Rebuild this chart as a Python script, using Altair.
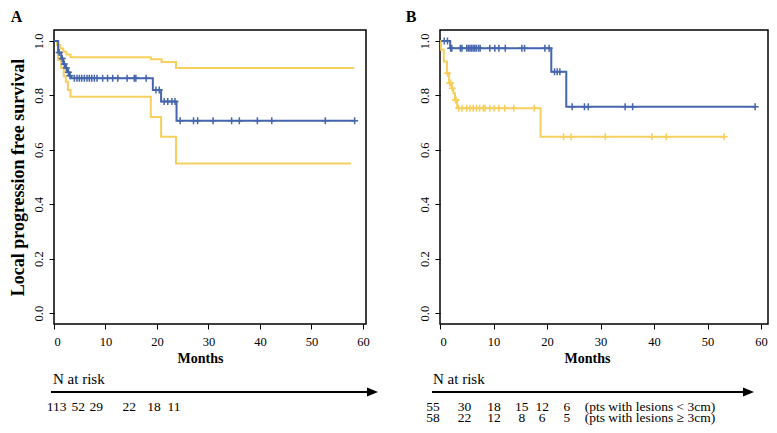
import altair as alt
import pandas as pd

FONT = "Liberation Serif"
BLUE = "#4565ae"
YELLOW = "#f6cf5e"

# ---------------- Panel A: all lesions, KM estimate with 95% CI ----------------
a_km_time = [0, 0.8, 1.4, 1.8, 2.2, 2.6, 3.0, 3.3, 19.2, 20.8, 23.8, 58.5]
a_km_surv = [1.0, 0.957, 0.935, 0.915, 0.9, 0.885, 0.872, 0.863, 0.82, 0.777, 0.707, 0.707]
a_cens_time = [1.0, 1.6, 2.0, 2.4, 2.8, 3.1,
               3.95, 4.47, 4.92, 5.38, 5.89, 6.41, 6.86, 7.32, 7.83, 8.35, 9.45, 10.4,
               11.4, 12.4, 14.2, 15.6, 15.9, 17.9,
               19.8, 20.45, 21.4, 22.1, 22.9, 23.5,
               24.5, 27.1, 27.9, 30.9, 34.5, 36.0, 39.5, 42.3, 52.7, 58.4]
a_ci_up_time = [0, 0.6, 1.2, 1.8, 2.4, 3.2, 18.8, 20.9, 23.7, 58.3]
a_ci_up_surv = [1.0, 0.985, 0.972, 0.96, 0.95, 0.94, 0.933, 0.922, 0.9, 0.9]
a_ci_lo_time = [0, 0.8, 1.4, 1.9, 2.3, 2.7, 3.2, 18.8, 20.8, 23.7, 57.7]
a_ci_lo_surv = [1.0, 0.93, 0.9, 0.87, 0.85, 0.82, 0.795, 0.72, 0.648, 0.55, 0.55]

a_risk_time = [0.5, 4.7, 8.2, 14.6, 19.4, 23.3]
a_risk_n = ["113", "52", "29", "22", "18", "11"]

# ---------------- Panel B: lesions < 3 cm vs >= 3 cm ----------------
b_small_time = [0, 1.9, 20.8, 23.6, 58.9]
b_small_surv = [1.0, 0.973, 0.887, 0.758, 0.758]
b_small_cens = [0.8, 1.4, 2.0, 2.2, 3.8, 4.1, 5.0, 5.3, 5.6, 5.9, 6.2, 6.5, 6.8, 7.2, 7.5,
                9.3, 10.25, 11.0, 12.2, 15.3, 15.8, 19.6, 20.4,
                21.4, 21.9, 22.4,
                24.7, 27.0, 27.7, 34.6, 36.0, 58.9]
b_large_time = [0, 0.2, 0.7, 1.3, 1.7, 2.2, 2.5, 2.8, 3.2, 18.8, 53.1]
b_large_surv = [1.0, 0.967, 0.924, 0.881, 0.845, 0.826, 0.808, 0.783, 0.753, 0.648, 0.648]
b_large_cens = [1.4, 1.8, 2.0, 2.3, 2.9, 3.0,
                3.5, 4.1, 5.0, 5.6, 6.2, 6.8, 7.4, 8.1, 8.4, 9.3, 10.1, 11.0, 12.1, 13.8, 17.6,
                23.1, 24.5, 30.9, 39.6, 42.3, 53.1]

b_risk_time = [-1.3, 4.6, 10.1, 15.3, 19.1, 23.7]
b_risk_small = ["55", "30", "18", "15", "12", "6"]
b_risk_large = ["58", "22", "12", "8", "6", "5"]
b_risk_label_time = [27.05]
b_risk_labels = ["(pts with lesions < 3cm)", "(pts with lesions \u2265 3cm)"]

Y_TICKS = [0, 0.2, 0.4, 0.6, 0.8, 1.0]
X_TICKS = [0, 10, 20, 30, 40, 50, 60]

H = 294
ROW1, ROW2 = H + 83, H + 94
RISK_FS = 13.5
CROSS = "M-1,0L1,0M0,-1L0,1"
ARROW = "M-1,-0.8L1,0L-1,0.8Z"


def surv_at(t, times, surv):
    s = surv[0]
    for ti, si in zip(times, surv):
        if ti <= t:
            s = si
    return s


def curve_df(name, times, surv):
    return pd.DataFrame({"t": times, "s": surv, "curve": name})


def cens_df(name, cens, times, surv):
    return pd.DataFrame({"t": cens, "s": [surv_at(c, times, surv) for c in cens], "curve": name})


COLOR = alt.Color("curve:N", scale=alt.Scale(domain=["km", "ci_up", "ci_lo", "small", "large"],
                                             range=[BLUE, YELLOW, YELLOW, BLUE, YELLOW]), legend=None)


def build_panel(label, lines, cens, width, xmax, ytitle, months_x, risk_rows, risk_legend,
                arrow_x0, arrow_tip, nrisk_x, label_x):
    xs = alt.Scale(domain=[0, xmax], nice=False, zero=False)
    ys = alt.Scale(domain=[-0.04, 1.04], nice=False, zero=False)
    if ytitle:
        yaxis = alt.Axis(values=Y_TICKS, format=".1f", labelAngle=270, labelAlign="center",
                         labelBaseline="bottom", labelPadding=4, tickSize=5,
                         title=ytitle, titleX=-36, titleY=H / 2, titleAngle=270,
                         titleAlign="center", titleBaseline="middle",
                         titleFontSize=18, titleFontWeight="bold")
    else:
        yaxis = alt.Axis(values=Y_TICKS, format=".1f", labelAngle=270, labelAlign="center",
                         labelBaseline="bottom", labelPadding=4, tickSize=5, title=None)
    xaxis = alt.Axis(values=X_TICKS, tickSize=5, labelPadding=6, title="Months",
                     titleX=months_x, titleY=34, titleAlign="center", titleBaseline="middle",
                     titleFontSize=14, titleFontWeight="bold")

    line = alt.Chart(lines).mark_line(interpolate="step-after", strokeWidth=2).encode(
        x=alt.X("t:Q", scale=xs, axis=xaxis),
        y=alt.Y("s:Q", scale=ys, axis=yaxis),
        color=COLOR, detail="curve:N")
    pts = alt.Chart(cens).mark_point(shape=CROSS, size=49, strokeWidth=1.5, filled=False, opacity=1).encode(
        x=alt.X("t:Q", scale=xs), y=alt.Y("s:Q", scale=ys), color=COLOR)

    layers = [line, pts]
    for rows_y, (times, vals) in zip([ROW1, ROW2], risk_rows):
        df = pd.DataFrame({"t": times, "n": vals})
        layers.append(alt.Chart(df).mark_text(font=FONT, fontSize=RISK_FS, align="center",
                                              baseline="middle", color="black").encode(
            x=alt.X("t:Q", scale=xs), y=alt.value(rows_y), text="n:N"))
    if risk_legend:
        for i, lab in enumerate(risk_legend):
            d = pd.DataFrame({"t": b_risk_label_time, "lab": [lab]})
            layers.append(alt.Chart(d).mark_text(font=FONT, fontSize=RISK_FS, align="left",
                                                 baseline="middle", color="black").encode(
                x=alt.X("t:Q", scale=xs), y=alt.value([ROW1, ROW2][i]), text="lab:N"))
    # arrow and "N at risk"
    layers.append(alt.Chart(pd.DataFrame({"a": [0]})).mark_rule(color="black", strokeWidth=2).encode(
        x=alt.value(arrow_x0), x2=alt.value(arrow_tip - 8), y=alt.value(H + 68)))
    layers.append(alt.Chart(pd.DataFrame({"a": [0]})).mark_point(
        shape=ARROW, size=121, filled=True, color="black", opacity=1).encode(
        x=alt.value(arrow_tip - 5.5), y=alt.value(H + 68)))
    layers.append(alt.Chart(pd.DataFrame({"a": ["N at risk"]})).mark_text(
        font=FONT, fontSize=15, align="left", baseline="middle", color="black").encode(
        x=alt.value(nrisk_x), y=alt.value(H + 55), text="a:N"))
    layers.append(alt.Chart(pd.DataFrame({"a": [label]})).mark_text(
        font=FONT, fontSize=16, fontWeight="bold", align="center", baseline="middle",
        color="black").encode(x=alt.value(label_x), y=alt.value(-13), text="a:N"))
    return alt.layer(*layers).properties(width=width, height=H)


lines_a = pd.concat([curve_df("ci_up", a_ci_up_time, a_ci_up_surv),
                     curve_df("ci_lo", a_ci_lo_time, a_ci_lo_surv),
                     curve_df("km", a_km_time, a_km_surv)], ignore_index=True)
cens_a = cens_df("km", a_cens_time, a_km_time, a_km_surv)

lines_b = pd.concat([curve_df("small", b_small_time, b_small_surv),
                     curve_df("large", b_large_time, b_large_surv)], ignore_index=True)
cens_b = pd.concat([cens_df("small", b_small_cens, b_small_time, b_small_surv),
                    cens_df("large", b_large_cens, b_large_time, b_large_surv)], ignore_index=True)

panel_a = build_panel("A", lines_a, cens_a, 312, 60.6, "Local progression free survival", 146,
                      [(a_risk_time, a_risk_n)], None, -3, 324, -1, -37.5)
panel_b = build_panel("B", lines_b, cens_b, 328, 61.3, None, 147,
                      [(b_risk_time, b_risk_small), (b_risk_time, b_risk_large)], b_risk_labels,
                      -8, 314, -7, -29)

chart = alt.hconcat(panel_a, panel_b, spacing=74, bounds="flush").properties(
    padding=0
).configure_view(stroke="black", strokeWidth=1.5).configure_axis(
    labelFont=FONT, labelFontSize=12.5, labelColor="black", titleFont=FONT, titleColor="black",
    tickColor="black", tickWidth=1, grid=False, domain=False
)

chart.save("out.html", embed_options={"renderer": "svg", "actions": False})
